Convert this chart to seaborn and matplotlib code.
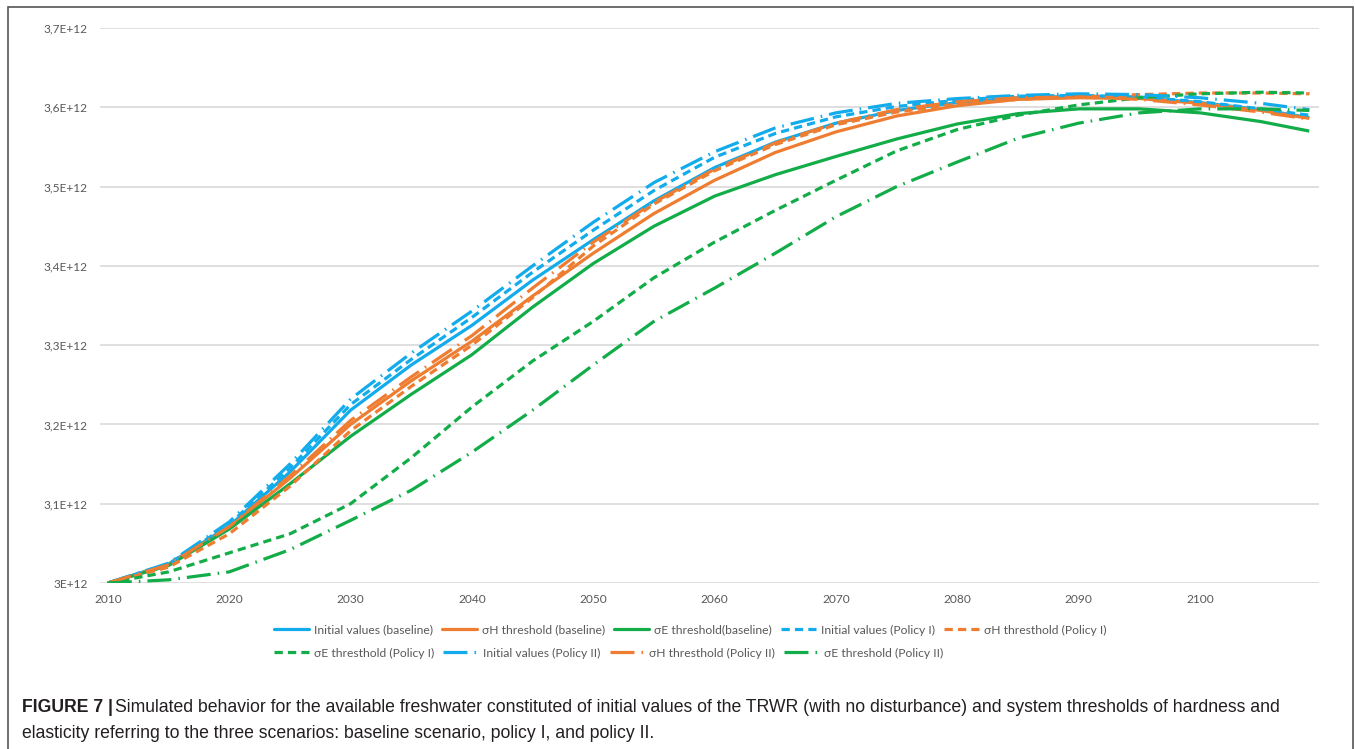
import matplotlib
matplotlib.use("Agg")
import matplotlib.pyplot as plt
from matplotlib.patches import Rectangle
from matplotlib.lines import Line2D
from matplotlib.ticker import FixedLocator
import seaborn as sns
import pandas as pd

# ---------------- data ----------------
years = [2010, 2015, 2020, 2025, 2030, 2035, 2040, 2045, 2050, 2055, 2060,
         2065, 2070, 2075, 2080, 2085, 2090, 2095, 2100, 2105, 2109]

# values in units of 1e12
init_baseline = [3.000, 3.024, 3.072, 3.140, 3.218, 3.275, 3.325, 3.382, 3.433, 3.482, 3.524,
                 3.556, 3.580, 3.596, 3.606, 3.612, 3.614, 3.612, 3.606, 3.597, 3.587]
sh_baseline = [3.000, 3.023, 3.070, 3.132, 3.200, 3.255, 3.305, 3.362, 3.416, 3.466, 3.508,
               3.543, 3.569, 3.589, 3.602, 3.610, 3.612, 3.611, 3.605, 3.596, 3.586]
se_baseline = [3.000, 3.022, 3.068, 3.125, 3.185, 3.238, 3.288, 3.348, 3.403, 3.450, 3.488,
               3.515, 3.538, 3.560, 3.579, 3.592, 3.598, 3.598, 3.593, 3.582, 3.570]
init_policy1 = [3.000, 3.024, 3.074, 3.145, 3.225, 3.282, 3.335, 3.392, 3.445, 3.495, 3.537,
                3.567, 3.588, 3.601, 3.609, 3.614, 3.615, 3.613, 3.607, 3.598, 3.590]
sh_policy1 = [3.000, 3.020, 3.062, 3.122, 3.192, 3.248, 3.300, 3.360, 3.425, 3.478, 3.520,
              3.553, 3.578, 3.594, 3.604, 3.610, 3.613, 3.616, 3.618, 3.618, 3.617]
se_policy1 = [3.000, 3.014, 3.038, 3.062, 3.100, 3.158, 3.222, 3.280, 3.330, 3.385, 3.430,
              3.470, 3.508, 3.545, 3.572, 3.590, 3.603, 3.612, 3.617, 3.619, 3.618]
init_policy2 = [3.000, 3.025, 3.077, 3.150, 3.232, 3.290, 3.343, 3.400, 3.455, 3.505, 3.544,
                3.574, 3.593, 3.605, 3.611, 3.615, 3.617, 3.616, 3.612, 3.605, 3.597]
sh_policy2 = [3.000, 3.023, 3.071, 3.135, 3.205, 3.260, 3.312, 3.372, 3.430, 3.480, 3.522,
              3.555, 3.580, 3.597, 3.607, 3.612, 3.613, 3.610, 3.603, 3.594, 3.585]
se_policy2 = [3.000, 3.004, 3.014, 3.042, 3.079, 3.117, 3.165, 3.218, 3.275, 3.330, 3.372,
              3.416, 3.462, 3.500, 3.531, 3.561, 3.580, 3.593, 3.598, 3.598, 3.596]

labels = ["Initial values (baseline)", "σH threshold (baseline)", "σE threshold(baseline)",
          "Initial values (Policy I)", "σH thresthold (Policy I)", "σE thresthold (Policy I)",
          "Initial values (Policy II)", "σH thresthold (Policy II)", "σE threshold (Policy II)"]
series = [init_baseline, sh_baseline, se_baseline,
          init_policy1, sh_policy1, se_policy1,
          init_policy2, sh_policy2, se_policy2]

x_ticks = [2010, 2020, 2030, 2040, 2050, 2060, 2070, 2080, 2090, 2100]
y_ticks = [3.0, 3.1, 3.2, 3.3, 3.4, 3.5, 3.6, 3.7]
y_tick_labels = ["3E+12", "3,1E+12", "3,2E+12", "3,3E+12", "3,4E+12", "3,5E+12", "3,6E+12", "3,7E+12"]

# ---------------- style ----------------
BLUE = "#12ABEB"
ORANGE = "#EE7D31"
GREEN = "#12AD48"
colors = [BLUE, ORANGE, GREEN] * 3
solid = "-"
short_dash = (0, (2.6, 1.6))
long_dash_dot = (0, (7.5, 2.2, 0.5, 2.2))
styles = [solid] * 3 + [short_dash] * 3 + [long_dash_dot] * 3

sns.set_theme(style="white")
plt.rcParams["font.family"] = ["Lato", "DejaVu Sans"]

fig = plt.figure(figsize=(13.55, 7.49), dpi=100)
ax = fig.add_axes([100 / 1355, 166 / 749, 1219 / 1355, 555 / 749])

df = pd.DataFrame({"year": years})
for lab, vals, c, ls in zip(labels, series, colors, styles):
    df[lab] = vals
    sns.lineplot(data=df, x="year", y=lab, ax=ax, color=c, linewidth=2.3,
                 linestyle=ls, legend=False)
    ax.lines[-1].set_linestyle(ls)
    ax.lines[-1].set_solid_capstyle("butt")
    ax.lines[-1].set_solid_joinstyle("round")

ax.set_xlim(2009.35, 2109.8)
ax.set_ylim(3.0, 3.7)
ax.yaxis.set_major_locator(FixedLocator(y_ticks))
ax.set_yticklabels(y_tick_labels)
ax.xaxis.set_major_locator(FixedLocator(x_ticks))
ax.set_xticklabels([str(t) for t in x_ticks])
ax.set_xlabel("")
ax.set_ylabel("")
for s in ax.spines.values():
    s.set_visible(False)
ax.grid(axis="y", color="#D9D9D9", linewidth=1.2)
ax.grid(axis="x", visible=False)
ax.set_axisbelow(True)
ax.tick_params(axis="both", length=0, labelsize=8.6, labelcolor="#595959")
ax.tick_params(axis="y", pad=9)
ax.tick_params(axis="x", pad=8)

# legends (two rows, Excel-style)
handles = [Line2D([0], [0], color=c, linewidth=2.3, linestyle=ls)
           for c, ls in zip(colors, styles)]
leg_kw = dict(frameon=False, fontsize=8.7, handlelength=2.9, handletextpad=0.4,
              columnspacing=0.75, borderpad=0, labelcolor="#595959")
leg1 = fig.legend(handles[:5], labels[:5], ncol=5, loc="center left",
                  bbox_to_anchor=(268 / 1355, 1 - 630 / 749), **leg_kw)
leg2 = fig.legend(handles[5:], labels[5:], ncol=4, loc="center left",
                  bbox_to_anchor=(268 / 1355, 1 - 653 / 749), **leg_kw)

# outer frame
fig.patches.append(Rectangle((8 / 1355, -0.05), (1353 - 8) / 1355, 742 / 749 + 0.05,
                             transform=fig.transFigure, fill=False,
                             edgecolor="#555555", linewidth=1.2))

# caption
cap_font = ["Liberation Sans", "DejaVu Sans"]
fig.canvas.draw()
r = fig.canvas.get_renderer()
t1 = fig.text(22 / 1355, 1 - 707 / 749, "FIGURE 7 |", fontsize=12.7, fontweight="bold",
              family=cap_font, va="center", ha="left", color="#231F20")
bb = t1.get_window_extent(renderer=r)
x_next = (bb.x1 + 2) / fig.bbox.width
fig.text(x_next, 1 - 707 / 749,
         "Simulated behavior for the available freshwater constituted of initial values of the TRWR "
         "(with no disturbance) and system thresholds of hardness and",
         fontsize=12.7, family=cap_font, va="center", ha="left", color="#231F20")
fig.text(22 / 1355, 1 - 733 / 749,
         "elasticity referring to the three scenarios: baseline scenario, policy I, and policy II.",
         fontsize=12.7, family=cap_font, va="center", ha="left", color="#231F20")

fig.savefig("out.png", dpi=100)
